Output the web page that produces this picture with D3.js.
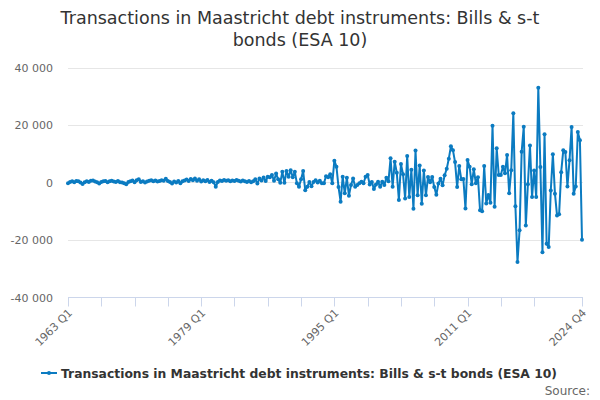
<!DOCTYPE html>
<html><head><meta charset="utf-8">
<script src="https://cdn.jsdelivr.net/npm/d3@7"></script>
<style>body{margin:0;background:#fff;} svg{display:block;font-family:"DejaVu Sans",sans-serif;}</style>
</head><body>
<svg id="c" width="600" height="400"></svg>
<script>
const titleLines = ["Transactions in Maastricht debt instruments: Bills & s-t", "bonds (ESA 10)"];
const seriesName = "Transactions in Maastricht debt instruments: Bills & s-t bonds (ESA 10)";
const sourceText = "Source:";
const years = d3.range(1963, 2025);
const quarters = years.flatMap(y => ["Q1","Q2","Q3","Q4"].map(q => y + " " + q));

const values1963_1974 = [-200,300,500,200,600,500,100,-400,200,500,300,700,800,400,200,-300,300,500,600,200,500,700,400,300,600,200,100,-200,-500,300,500,800,200,900,1200,300,500,100,400,700,900,500,800,400,600,900,700,1400];
const values1975_1986 = [600,300,-300,400,100,600,-200,500,800,1100,600,1300,900,1500,700,1200,400,900,500,1000,300,700,200,-1400,300,800,600,1000,700,900,500,800,600,1000,700,400,800,500,300,600,200,500,1200,-300,1500,800,1800,600];
const values1987_1998 = [2100,1900,2700,700,3200,1200,0,3800,0,4100,2100,4400,1900,3800,-200,-1400,1200,4100,-2600,-1400,300,-1200,300,900,100,700,-200,-200,2300,1900,3000,-200,7700,5600,-1500,-6600,2100,-3700,1700,-4500,-800,1500,-1400,-800,-200,350,-200,2100];
const values1999_2010 = [2700,-600,300,-2200,-600,350,-1400,350,-800,1700,500,8500,-1400,7300,3500,-6000,6500,3000,-5500,9300,-5000,4500,-9100,11200,-4400,6000,-7300,4300,-4400,2000,200,2000,-1500,-4200,-300,1400,-900,2600,4900,8400,12700,11300,7200,-1500,5800,1200,1300,-9000];
const values2011_2024 = [7900,5600,-500,4700,-200,1900,-9600,-9900,5800,-7200,-4300,-7000,19900,-8400,12000,2700,2700,5600,3300,9700,-3700,4400,24200,-8200,-27600,-16600,10800,19500,-14900,-500,13000,-5000,4300,-5000,33100,5500,-24200,16900,-21300,-22400,-2700,9900,-3800,-11400,-11000,3700,11300,10700,-1300,7800,19400,-3800,-1300,17700,14800,-19900];
const values = [].concat(values1963_1974, values1975_1986, values1987_1998, values1999_2010, values2011_2024);

const yTicks = [-40000, -20000, 0, 20000, 40000];
const xLabelQuarters = ["1963 Q1", "1979 Q1", "1995 Q1", "2011 Q1", "2024 Q4"];
const xTickQuarters = quarters.filter((d, i) => i % 16 === 0 && i <= 224).concat(["2024 Q4"]);

const svg = d3.select("#c");
const mLeft = 68, mRight = 582, mTop = 68, mBottom = 297.5;
const x = d3.scalePoint().domain(quarters).range([mLeft, mRight]);
const y = d3.scaleLinear().domain([-40000, 40000]).range([mBottom, mTop]);
const fmt = d3.formatLocale({decimal: ".", thousands: " ", grouping: [3], currency: ["", ""], minus: "-"}).format(",");

// title
svg.append("g").selectAll("text").data(titleLines).join("text")
  .attr("x", 300).attr("y", (d, i) => 24 + i * 22)
  .attr("text-anchor", "middle").attr("font-size", 17.5).attr("fill", "#333")
  .text(d => d);

// grid
svg.append("g").selectAll("line").data(yTicks).join("line")
  .attr("x1", mLeft).attr("x2", mRight + 1)
  .attr("y1", d => Math.floor(y(d)) + 0.5).attr("y2", d => Math.floor(y(d)) + 0.5)
  .attr("stroke", "#e6e6e6").attr("stroke-width", 1);

svg.append("g").selectAll("text").data(yTicks).join("text")
  .attr("x", 53).attr("y", d => y(d) + 4)
  .attr("text-anchor", "end").attr("font-size", 11).attr("fill", "#666")
  .text(d => fmt(d));

// x axis
svg.append("line").attr("x1", mLeft).attr("x2", mRight + 1)
  .attr("y1", Math.floor(mBottom) + 0.5).attr("y2", Math.floor(mBottom) + 0.5).attr("stroke", "#ccd6eb");
svg.append("g").selectAll("line").data(xTickQuarters).join("line")
  .attr("x1", d => Math.round(x(d)) + 0.5).attr("x2", d => Math.round(x(d)) + 0.5)
  .attr("y1", mBottom).attr("y2", mBottom + 9).attr("stroke", "#ccd6eb");
svg.append("g").selectAll("text").data(xLabelQuarters).join("text")
  .attr("transform", d => `translate(${x(d) + 5},${mBottom + 16}) rotate(-45)`)
  .attr("text-anchor", "end").attr("font-size", 11).attr("fill", "#666")
  .text(d => d);

// series
const color = "#0b7bc1";
const line = d3.line().x((d, i) => x(quarters[i])).y(d => y(d));
svg.append("path").datum(values).attr("d", line)
  .attr("fill", "none").attr("stroke", color).attr("stroke-width", 2).attr("stroke-linejoin", "round");
svg.append("g").selectAll("circle").data(values).join("circle")
  .attr("cx", (d, i) => x(quarters[i])).attr("cy", d => y(d)).attr("r", 2).attr("fill", color);

// legend
svg.append("line").attr("x1", 41).attr("x2", 57).attr("y1", 373).attr("y2", 373)
  .attr("stroke", color).attr("stroke-width", 2);
svg.append("circle").attr("cx", 49).attr("cy", 373).attr("r", 2).attr("fill", color);
svg.append("text").attr("x", 61).attr("y", 377.5).attr("font-size", 12.35).attr("font-weight", "bold")
  .attr("fill", "#333").text(seriesName);
svg.append("text").attr("x", 590).attr("y", 394.5).attr("text-anchor", "end")
  .attr("font-size", 12).attr("fill", "#666").text(sourceText);
</script>
</body></html>
